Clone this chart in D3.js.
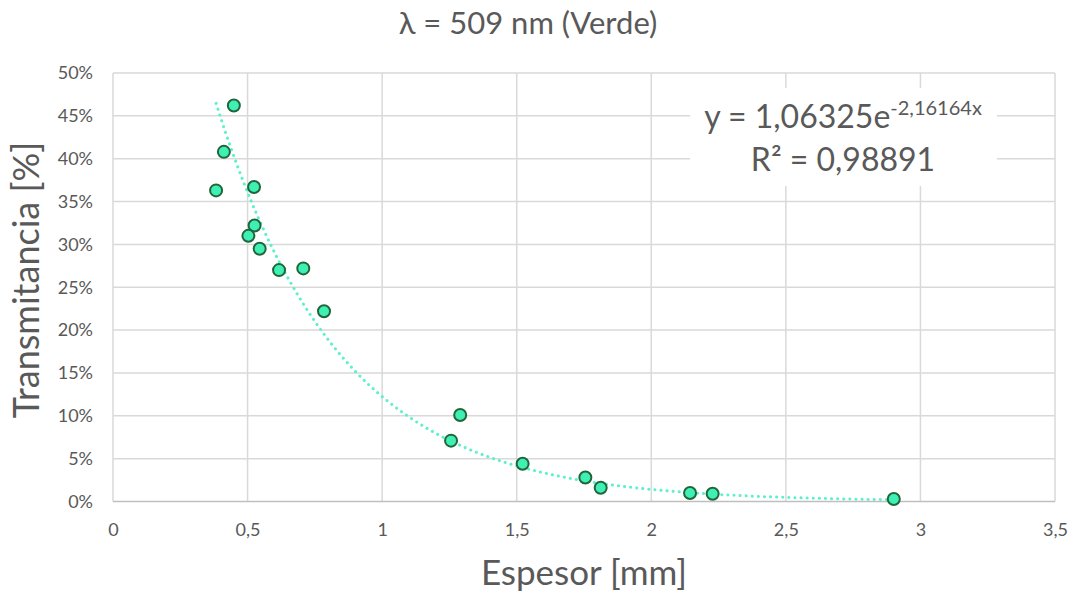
<!DOCTYPE html>
<html>
<head>
<meta charset="utf-8">
<script src="https://cdn.jsdelivr.net/npm/d3@7"></script>
<style>
  html, body { margin: 0; padding: 0; background: #fff; }
  svg { display: block; font-family: Lato, "Open Sans", sans-serif; }
</style>
</head>
<body>
<svg id="chart" width="1075" height="592"></svg>
<script>
// Thickness (mm) and measured transmittance (fraction) at 509 nm
const espesor = [0.383, 0.449, 0.412, 0.524, 0.526, 0.503, 0.545, 0.617, 0.707, 0.784,
                 1.290, 1.256, 1.522, 1.755, 1.812, 2.144, 2.228, 2.901];
const transmitancia = [0.363, 0.462, 0.408, 0.367, 0.322, 0.310, 0.295, 0.270, 0.272, 0.222,
                       0.101, 0.071, 0.044, 0.028, 0.016, 0.010, 0.009, 0.003];
// Exponential fit y = a·e^(b·x)
const fitA = 1.06325;
const fitB = -2.16164;
const fitR2 = 0.98891;
const xTicks = [0, 0.5, 1, 1.5, 2, 2.5, 3, 3.5];
const yTicks = [0, 0.05, 0.10, 0.15, 0.20, 0.25, 0.30, 0.35, 0.40, 0.45, 0.50];

const svg = d3.select("#chart");
const plot = { left: 113, right: 1055, top: 73, bottom: 501.5 };

const x = d3.scaleLinear().domain([0, 3.5]).range([plot.left, plot.right]);
const y = d3.scaleLinear().domain([0, 0.5]).range([plot.bottom, plot.top]);

const fmtX = d => String(d).replace(".", ",");
const fmtY = d => Math.round(d * 100) + "%";

// Gridlines
const grid = svg.append("g");
grid.selectAll("line.gx").data(xTicks).join("line")
  .attr("x1", d => x(d)).attr("x2", d => x(d))
  .attr("y1", plot.top).attr("y2", plot.bottom)
  .attr("stroke", "#d9d9d9").attr("stroke-width", 1.5);
grid.selectAll("line.gy").data(yTicks).join("line")
  .attr("x1", plot.left).attr("x2", plot.right)
  .attr("y1", d => y(d)).attr("y2", d => y(d))
  .attr("stroke", d => d === 0 ? "#bfbfbf" : "#d9d9d9").attr("stroke-width", 1.5);

// Axes (labels only)
const xAxis = d3.axisBottom(x).tickValues(xTicks).tickFormat(fmtX).tickSize(0).tickPadding(22);
const yAxis = d3.axisLeft(y).tickValues(yTicks).tickFormat(fmtY).tickSize(0).tickPadding(20);
const gx = svg.append("g").attr("transform", `translate(0,${plot.bottom})`).call(xAxis);
const gy = svg.append("g").attr("transform", `translate(${plot.left},0)`).call(yAxis);
[gx, gy].forEach(g => {
  g.select(".domain").remove();
  g.selectAll("text").attr("fill", "#595959").attr("font-size", 18)
    .attr("font-family", "Lato, 'Open Sans', sans-serif");
});

// Trendline
const xs = d3.range(0, 201).map(i => d3.min(espesor) + (d3.max(espesor) - d3.min(espesor)) * i / 200);
const line = d3.line().x(d => x(d)).y(d => y(fitA * Math.exp(fitB * d)));
svg.append("path").datum(xs)
  .attr("d", line)
  .attr("fill", "none")
  .attr("stroke", "#5cf0cb")
  .attr("stroke-width", 3)
  .attr("stroke-linecap", "round")
  .attr("stroke-dasharray", "0.1 6");

// Data points
svg.append("g").selectAll("circle").data(espesor).join("circle")
  .attr("cx", d => x(d))
  .attr("cy", (d, i) => y(transmitancia[i]))
  .attr("r", 6)
  .attr("fill", "#3ff0b4")
  .attr("stroke", "#21663a")
  .attr("stroke-width", 2);

// Equation label
svg.append("rect").attr("x", 690).attr("y", 88).attr("width", 307).attr("height", 98).attr("fill", "#fff");
const eq = svg.append("text").attr("x", 843).attr("y", 128).attr("text-anchor", "middle")
  .attr("fill", "#595959").attr("font-size", 32);
eq.append("tspan").text(`y = ${fmtX(fitA.toFixed(5))}e`);
eq.append("tspan").attr("font-size", 20).attr("dy", -13).text(`${fmtX(fitB.toFixed(5))}x`);
svg.append("text").attr("x", 843).attr("y", 171).attr("text-anchor", "middle")
  .attr("fill", "#595959").attr("font-size", 32)
  .text(`R² = ${fmtX(fitR2.toFixed(5))}`);

// Titles
svg.append("text").attr("x", 528).attr("y", 34).attr("text-anchor", "middle")
  .attr("fill", "#595959").attr("font-size", 31).text("λ = 509 nm (Verde)");
svg.append("text").attr("x", 584).attr("y", 585).attr("text-anchor", "middle")
  .attr("fill", "#595959").attr("font-size", 35).text("Espesor [mm]");
svg.append("text").attr("transform", "translate(39,280) rotate(-90)").attr("text-anchor", "middle")
  .attr("fill", "#595959").attr("font-size", 36).text("Transmitancia [%]");
</script>
</body>
</html>
